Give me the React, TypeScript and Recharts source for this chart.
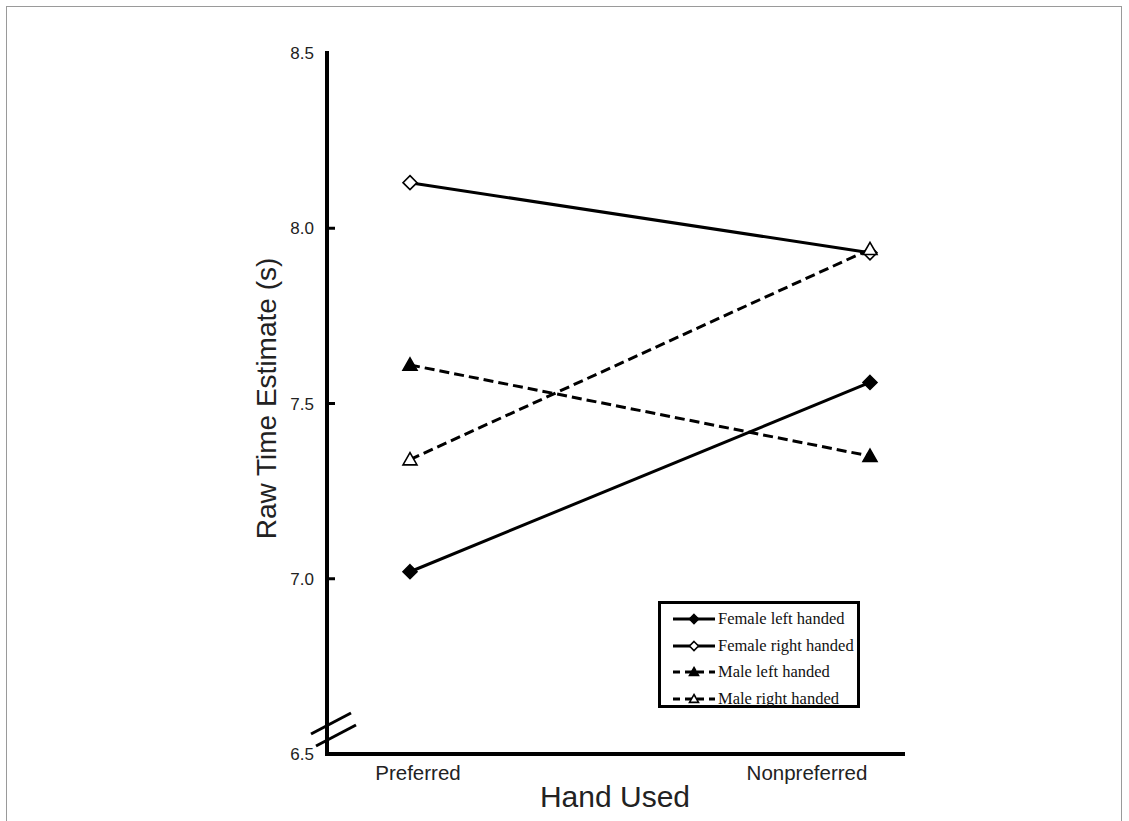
import React from 'react'
import { LineChart, Line, XAxis, YAxis, Legend } from 'recharts'

// values
const categories = ['Preferred', 'Nonpreferred']
const femaleLeft = [7.02, 7.56]
const femaleRight = [8.13, 7.93]
const maleLeft = [7.61, 7.35]
const maleRight = [7.34, 7.94]
const yTicks = [6.5, 7.0, 7.5, 8.0, 8.5]
const innerTicks = [7.0, 7.5, 8.0]

const data = categories.map((hand, i) => ({
  hand,
  femaleLeft: femaleLeft[i],
  femaleRight: femaleRight[i],
  maleLeft: maleLeft[i],
  maleRight: maleRight[i],
}))

const series = [
  { key: 'femaleLeft', name: 'Female left handed', dashed: false, shape: 'diamond', filled: true },
  { key: 'femaleRight', name: 'Female right handed', dashed: false, shape: 'diamond', filled: false },
  { key: 'maleLeft', name: 'Male left handed', dashed: true, shape: 'triangle', filled: true },
  { key: 'maleRight', name: 'Male right handed', dashed: true, shape: 'triangle', filled: false },
]

const SANS = '"Liberation Sans", Arial, sans-serif'
const SERIF = '"Liberation Serif", "Times New Roman", serif'
const DASH = '10 5'

function Marker({ cx, cy, shape, filled, size = 7 }: any) {
  if (cx == null || cy == null) return null
  const fill = filled ? '#000' : '#fff'
  if (shape === 'diamond') {
    const s = size
    return (
      <path
        d={`M${cx},${cy - s} L${cx + s},${cy} L${cx},${cy + s} L${cx - s},${cy} Z`}
        fill={fill}
        stroke="#000"
        strokeWidth={1.6}
      />
    )
  }
  const s = size
  return (
    <path
      d={`M${cx},${cy - s} L${cx + s},${cy + s * 0.75} L${cx - s},${cy + s * 0.75} Z`}
      fill={fill}
      stroke="#000"
      strokeWidth={1.6}
    />
  )
}

// x tick labels sit a little off the points in the original
const xLabelShift = [8, -63]

function XTick({ x, y, payload, index }: any) {
  return (
    <text x={x + xLabelShift[index]} y={y + 24} textAnchor="middle" fontFamily={SANS} fontSize={20.5} fill="#222">
      {payload.value}
    </text>
  )
}

// label plus a short inward tick mark (none at the ends of the axis)
function YTick({ x, y, payload }: any) {
  const v = Number(payload.value)
  const inner = innerTicks.some((t) => Math.abs(t - v) < 1e-6)
  return (
    <g>
      {inner && <line x1={x + 13} x2={x + 21} y1={y} y2={y} stroke="#000" strokeWidth={3} />}
      <text x={x} y={y + 6} textAnchor="end" fontFamily={SANS} fontSize={17} fill="#222">
        {v.toFixed(1)}
      </text>
    </g>
  )
}

function YTitle({ viewBox }: any) {
  const x = viewBox.x + 9
  const y = viewBox.y + viewBox.height / 2 - 5
  return (
    <text x={x} y={y} transform={`rotate(-90, ${x}, ${y})`} textAnchor="middle" fontFamily={SANS} fontSize={28} fill="#222">
      Raw Time Estimate (s)
    </text>
  )
}

function XTitle({ viewBox }: any) {
  const x = viewBox.x + viewBox.width / 2
  return (
    <text x={x} y={807} textAnchor="middle" fontFamily={SANS} fontSize={30} fill="#222">
      Hand Used
    </text>
  )
}

function LegendBox() {
  return (
    <div
      style={{
        width: 202,
        height: 107,
        border: '3px solid #000',
        boxSizing: 'border-box',
        background: '#fff',
        padding: '2px 0 0 10px',
      }}
    >
      {series.map((s) => (
        <div key={s.key} style={{ display: 'flex', alignItems: 'center', height: 26.5 }}>
          <svg width={46} height={16} style={{ marginRight: 1 }}>
            <line
              x1={2}
              x2={44}
              y1={8}
              y2={8}
              stroke="#000"
              strokeWidth={3}
              strokeDasharray={s.dashed ? '7 5' : undefined}
            />
            <Marker cx={23} cy={8} shape={s.shape} filled={s.filled} size={4.5} />
          </svg>
          <span style={{ fontFamily: SERIF, fontSize: 16.5, color: '#111', whiteSpace: 'nowrap' }}>{s.name}</span>
        </div>
      ))}
    </div>
  )
}

export default function App() {
  return (
    <div
      style={{
        position: 'absolute',
        left: 0,
        top: 0,
        width: 1129,
        height: 821,
        background: '#fff',
        overflow: 'hidden',
      }}
    >
      <div
        style={{
          position: 'absolute',
          left: 6,
          top: 6,
          width: 1116,
          height: 840,
          border: '1px solid #9a9a9a',
          boxSizing: 'border-box',
        }}
      />
      <LineChart
        width={1129}
        height={821}
        data={data}
        margin={{ top: 53, right: 226, left: 267, bottom: 37 }}
        style={{ position: 'absolute', left: 0, top: 0 }}
      >
        <XAxis
          dataKey="hand"
          padding={{ left: 83, right: 33 }}
          height={30}
          axisLine={{ stroke: '#000', strokeWidth: 4, strokeLinecap: 'square' }}
          tickLine={false}
          tickSize={0}
          tick={<XTick />}
          interval={0}
          label={<XTitle />}
        />
        <YAxis
          domain={[6.5, 8.5]}
          ticks={yTicks}
          width={60}
          allowDataOverflow
          axisLine={{ stroke: '#000', strokeWidth: 4, strokeLinecap: 'square' }}
          tickLine={false}
          tickSize={0}
          tickMargin={13}
          tick={<YTick />}
          interval={0}
          label={<YTitle />}
        />
        <Legend
          layout="horizontal"
          verticalAlign="middle"
          align="center"
          content={<LegendBox />}
          wrapperStyle={{ position: 'absolute', left: 658, top: 601, width: 202, height: 107 }}
        />
        {series.map((s) => (
          <Line
            key={s.key}
            type="linear"
            dataKey={s.key}
            name={s.name}
            stroke="#000"
            strokeWidth={3}
            strokeDasharray={s.dashed ? DASH : undefined}
            dot={(p: any) => <Marker key={`${s.key}-${p.index}`} cx={p.cx} cy={p.cy} shape={s.shape} filled={s.filled} />}
            activeDot={false}
            isAnimationActive={false}
          />
        ))}
      </LineChart>
      <svg width={1129} height={821} style={{ position: 'absolute', left: 0, top: 0, pointerEvents: 'none' }}>
        <line x1={311} y1={734} x2={351} y2={713} stroke="#000" strokeWidth={3} />
        <line x1={316} y1={746} x2={356} y2={725} stroke="#000" strokeWidth={3} />
      </svg>
    </div>
  )
}
